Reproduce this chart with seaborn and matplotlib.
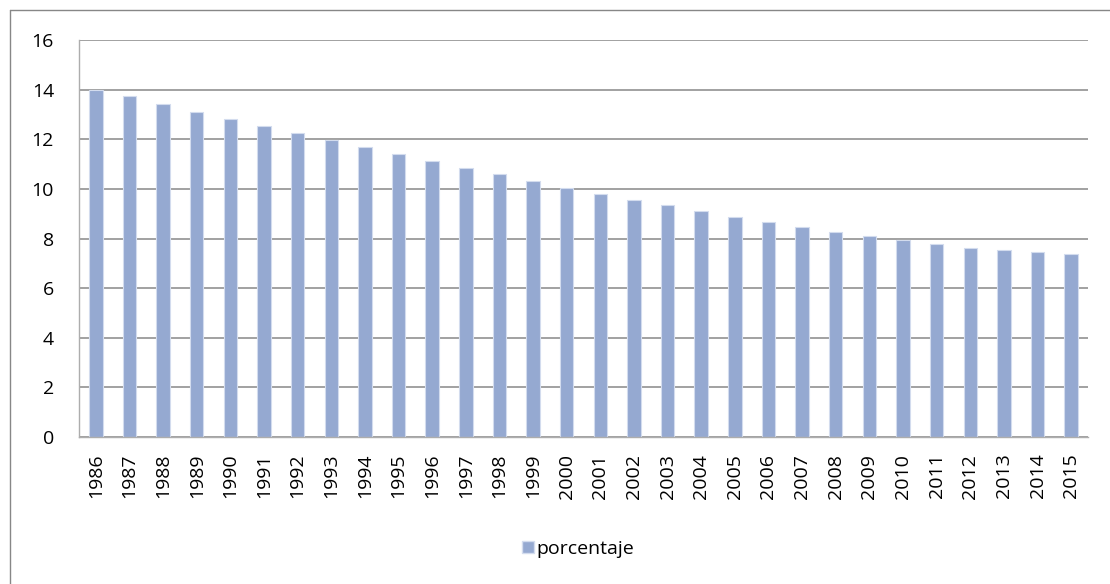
import matplotlib
matplotlib.use("Agg")
import matplotlib.pyplot as plt
import seaborn as sns
import pandas as pd
from matplotlib.lines import Line2D
from matplotlib.patches import Patch

# ── 数据 ──────────────────────────────────────────────
YEARS = [str(y) for y in range(1986, 2016)]
PORCENTAJE = [14.0, 13.75, 13.43, 13.1, 12.82, 12.53, 12.25, 11.96, 11.68, 11.4,
              11.13, 10.85, 10.58, 10.31, 10.04, 9.8, 9.56, 9.33, 9.1, 8.87,
              8.67, 8.48, 8.28, 8.1, 7.92, 7.77, 7.63, 7.53, 7.45, 7.37]
Y_TICKS = [0, 2, 4, 6, 8, 10, 12, 14, 16]
SERIES_NAME = "porcentaje"

BAR_COLOR = "#95A9D1"
GRID_COLOR = "#878787"
FS = 14

df = pd.DataFrame({"year": YEARS, SERIES_NAME: PORCENTAJE})

sns.set_style("white")
plt.rcParams["font.family"] = ["Open Sans", "DejaVu Sans"]

fig = plt.figure(figsize=(11.1, 5.84), dpi=100)
ax = fig.add_axes([79 / 1110, 1 - 437 / 584, (1088 - 79) / 1110, (437 - 40) / 584])

sns.barplot(data=df, x="year", y=SERIES_NAME, ax=ax, color=BAR_COLOR,
            width=0.4, edgecolor="#D3DCEE", linewidth=0.8, saturation=1)

ax.set_ylim(0, 16)
ax.set_xlim(-0.5, len(YEARS) - 0.5)
ax.set_yticks(Y_TICKS)
ax.set_yticklabels([str(t) for t in Y_TICKS], fontsize=FS, color="black")
ax.set_xticks(range(len(YEARS)))
ax.set_xticklabels(YEARS, rotation=90, fontsize=FS, color="black")
ax.tick_params(axis="y", length=0, pad=18)
ax.tick_params(axis="x", length=0, pad=12)
ax.set_xlabel("")
ax.set_ylabel("")

ax.yaxis.grid(True, color=GRID_COLOR, linewidth=1.1)
ax.set_axisbelow(True)
for side in ["top", "right"]:
    ax.spines[side].set_visible(False)
for side in ["left", "bottom"]:
    ax.spines[side].set_color("#ADADAD")
    ax.spines[side].set_linewidth(1.0)

# 外框（上、左）
fig.add_artist(Line2D([10 / 1110, 1], [1 - 10 / 584, 1 - 10 / 584],
                      transform=fig.transFigure, color=GRID_COLOR, linewidth=1.0))
fig.add_artist(Line2D([10 / 1110, 10 / 1110], [0, 1 - 10 / 584],
                      transform=fig.transFigure, color=GRID_COLOR, linewidth=1.0))

# 图例
handle = Patch(facecolor=BAR_COLOR, edgecolor="#D3DCEE", label=SERIES_NAME)
fig.legend(handles=[handle], loc="center", bbox_to_anchor=(578 / 1110, 1 - 549 / 584),
           frameon=False, fontsize=FS, handlelength=0.6, handleheight=0.6,
           handletextpad=0.15, borderpad=0, labelcolor="black")

fig.savefig("out.png", dpi=100, facecolor="white")
